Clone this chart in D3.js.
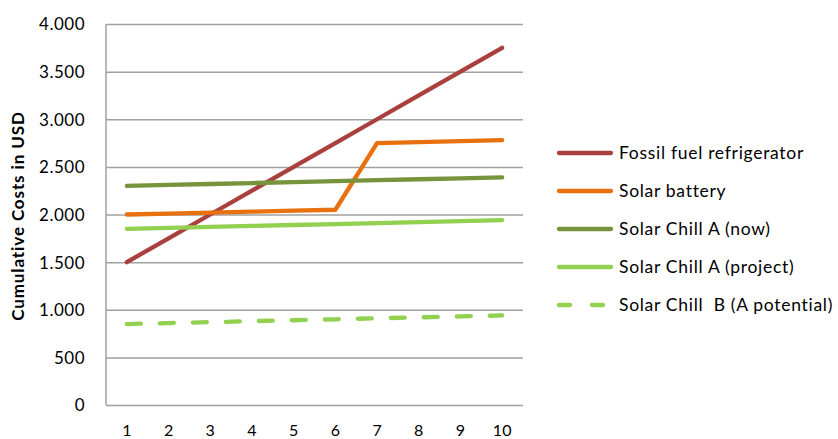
<!DOCTYPE html>
<html>
<head>
<meta charset="utf-8">
<script src="https://cdn.jsdelivr.net/npm/d3@7"></script>
<style>
  html, body { margin: 0; padding: 0; background: #fff; }
  svg { display: block; }
  text { font-family: Lato, "Open Sans", sans-serif; fill: #000; white-space: pre; }
</style>
</head>
<body>
<svg id="chart" width="838" height="439"></svg>
<script>
// Years since purchase
const years = [1, 2, 3, 4, 5, 6, 7, 8, 9, 10];

// Cumulative costs per option (USD)
const fossilFuel     = [1500, 1750, 2000, 2250, 2500, 2750, 3000, 3250, 3500, 3750];
const solarBattery   = [2000, 2010, 2020, 2030, 2040, 2050, 2750, 2760, 2770, 2780];
const chillANow      = [2300, 2310, 2320, 2330, 2340, 2350, 2360, 2370, 2380, 2390];
const chillAProject  = [1850, 1860, 1870, 1880, 1890, 1900, 1910, 1920, 1930, 1940];
const chillBPotential= [850, 860, 870, 880, 890, 900, 910, 920, 930, 940];

const seriesNames = [
  "Fossil fuel refrigerator",
  "Solar battery",
  "Solar Chill A (now)",
  "Solar Chill A (project)",
  "Solar Chill  B (A potential)"
];
const yTicks = [0, 500, 1000, 1500, 2000, 2500, 3000, 3500, 4000];

const series = [
  { name: seriesNames[0], values: fossilFuel,      color: "#A9403D", dash: null },
  { name: seriesNames[1], values: solarBattery,    color: "#E8700F", dash: null },
  { name: seriesNames[2], values: chillANow,       color: "#77933C", dash: null },
  { name: seriesNames[3], values: chillAProject,   color: "#92D050", dash: null },
  { name: seriesNames[4], values: chillBPotential, color: "#92D050", dash: "14,19" }
];

const svg = d3.select("#chart");
const plot = { left: 106, right: 523, top: 24, bottom: 405 };

const x = d3.scaleBand().domain(years).range([plot.left, plot.right]);
const y = d3.scaleLinear().domain([0, 4000]).range([plot.bottom, plot.top]);

// Thousands separator uses a dot
const fmt = v => d3.format(",")(v).replace(/,/g, ".");

// Horizontal gridlines and value labels
const yAxis = d3.axisLeft(y).tickValues(yTicks).tickSize(-(plot.right - plot.left)).tickFormat(fmt);
const gy = svg.append("g").attr("transform", `translate(${plot.left},0)`).call(yAxis);
gy.select(".domain").remove();
gy.selectAll(".tick line").attr("stroke", "#A0A0A0").attr("stroke-width", 1.5);
gy.selectAll(".tick text")
  .attr("x", -21).attr("dy", "0.35em")
  .style("font-size", "17px").style("letter-spacing", "0.5px")
  .style("font-family", "Lato, 'Open Sans', sans-serif").attr("fill", "#000");

// Vertical axis line
svg.append("line")
  .attr("x1", plot.left).attr("x2", plot.left)
  .attr("y1", plot.top).attr("y2", plot.bottom)
  .attr("stroke", "#A0A0A0").attr("stroke-width", 1.5);

// Category labels
const xAxis = d3.axisBottom(x).tickSize(0);
const gx = svg.append("g").attr("transform", `translate(0,${plot.bottom})`).call(xAxis);
gx.select(".domain").remove();
gx.selectAll(".tick text")
  .attr("y", 31).attr("dy", null)
  .style("font-size", "16px")
  .style("font-family", "Lato, 'Open Sans', sans-serif").attr("fill", "#000");

// Axis title
svg.append("text")
  .attr("transform", `translate(24,216) rotate(-90)`)
  .attr("text-anchor", "middle")
  .style("font-size", "17px")
  .style("letter-spacing", "0.9px")
  .style("font-weight", "bold")
  .text("Cumulative Costs in USD");

// Series lines
const line = d3.line()
  .x((d, i) => x(years[i]) + x.bandwidth() / 2)
  .y(d => y(d));

series.forEach(s => {
  svg.append("path")
    .datum(s.values)
    .attr("d", line)
    .attr("fill", "none")
    .attr("stroke", s.color)
    .attr("stroke-width", 4.3)
    .attr("stroke-linecap", "round")
    .attr("stroke-linejoin", "round")
    .attr("stroke-dasharray", s.dash);
});

// Legend
const legend = svg.append("g");
series.forEach((s, i) => {
  const ly = 153 + i * 38;
  legend.append("line")
    .attr("x1", 559).attr("x2", 611)
    .attr("y1", ly).attr("y2", ly)
    .attr("stroke", s.color).attr("stroke-width", 4.3)
    .attr("stroke-linecap", "round")
    .attr("stroke-dasharray", s.dash ? "11,22" : null);
  legend.append("text")
    .attr("x", 619).attr("y", ly).attr("dy", "0.36em")
    .style("font-size", "17.5px")
    .style("letter-spacing", "0.7px")
    .text(s.name);
});
</script>
</body>
</html>
